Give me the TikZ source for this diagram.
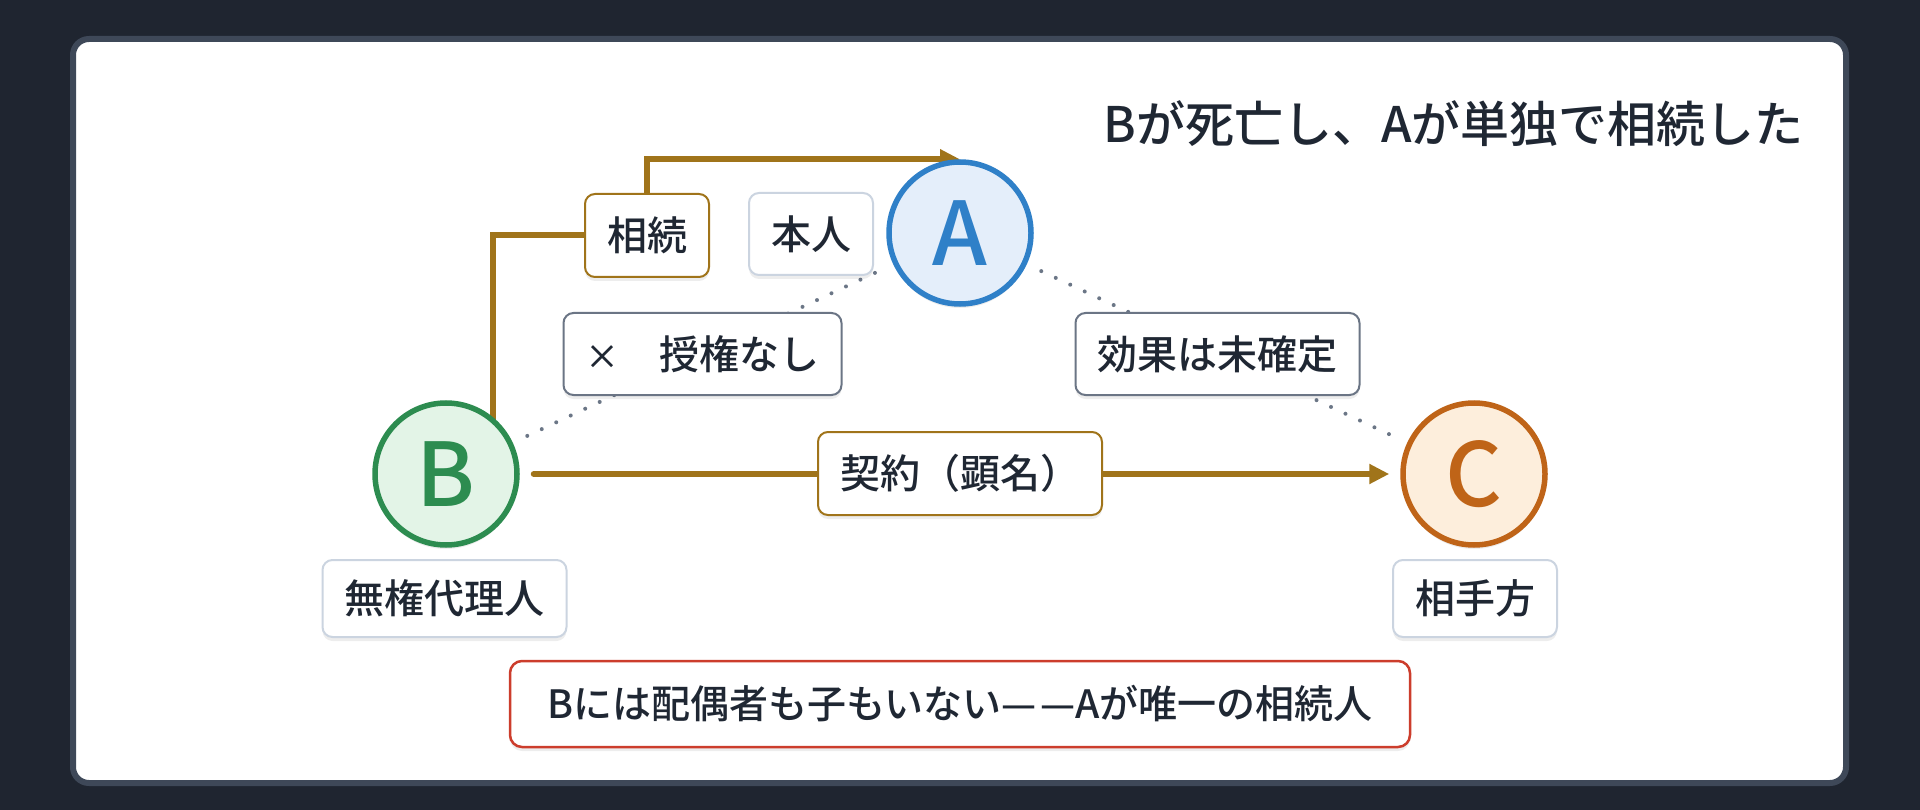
\documentclass[tikz,border=0pt]{standalone}
\usepackage{fontspec}
\setmainfont{Noto Sans CJK JP Medium}
\newfontfamily\letterfont{Noto Sans CJK JP Medium}
\usetikzlibrary{arrows.meta,shadows}
\definecolor{pagebg}{HTML}{1F2530}
\definecolor{cardedge}{HTML}{3E4858}
\definecolor{ink}{HTML}{1F2733}
\definecolor{gold}{HTML}{A0741A}
\definecolor{ablue}{HTML}{2F80C8}
\definecolor{ablueF}{HTML}{E4EEFA}
\definecolor{bgreen}{HTML}{2D8C50}
\definecolor{bgreenF}{HTML}{E3F4E7}
\definecolor{corange}{HTML}{BF6418}
\definecolor{corangeF}{HTML}{FDEEDC}
\definecolor{softedge}{HTML}{CBD4E0}
\definecolor{midedge}{HTML}{6B7585}
\definecolor{redge}{HTML}{CC3D2C}
\definecolor{dotgray}{HTML}{6B7686}
\pgfdeclarelayer{bglayer}
\pgfdeclarelayer{linelayer}
\pgfsetlayers{bglayer,linelayer,main}
\begin{document}
\begin{tikzpicture}[x=1pt,y=-1pt,
  softshadow/.style={drop shadow={shadow xshift=0pt,shadow yshift=-4pt,opacity=0.07,fill=black}},
  party/.style={circle, line width=5.5pt, minimum size=142pt, inner sep=0pt,
    font=\letterfont\fontsize{88}{88}\selectfont, softshadow},
  tag/.style={rectangle, rounded corners=10pt, fill=white, line width=2pt,
    inner xsep=22pt, inner ysep=0pt, minimum height=#1,
    font=\fontsize{40}{40}\selectfont, text=ink, softshadow},
  tag/.default=82pt,
  goldline/.style={gold, line width=6pt},
  dotline/.style={dotgray, line width=4pt, line cap=round, dash pattern=on 0pt off 16pt,
    shorten <=16pt, shorten >=16pt},
  goldtip/.style={-{Triangle[length=20pt,width=19pt]}}
]
\begin{pgfonlayer}{bglayer}
  \fill[pagebg] (0,0) rectangle (1920,810);
  \draw[cardedge, line width=6pt, fill=white, rounded corners=16pt] (73,39) rectangle (1846,783);
\end{pgfonlayer}
\useasboundingbox (0,0) rectangle (1920,810);

% title
\node[anchor=base east, inner sep=0pt, font=\fontsize{49}{49}\selectfont, text=ink] (title)
  at (1804,143) {Bが死亡し、Aが単独で相続した};

% parties
\node[party, draw=ablue, fill=ablueF, text=ablue] (A) at (960,233) {A};
\node[party, draw=bgreen, fill=bgreenF, text=bgreen] (B) at (446,474) {B};
\node[party, draw=corange, fill=corangeF, text=corange] (C) at (1474,474) {C};

% labels
\node[tag, draw=softedge] (honnin) at (811,234) {本人};
\node[tag=83pt, draw=gold] (inh) at (647,235.5) {相続};
\node[tag, draw=midedge] (noauth) at (702.5,354) {{\fontsize{34}{34}\selectfont ×}　授権なし};
\node[tag, draw=midedge] (effect) at (1217.5,354) {効果は未確定};
\node[tag=83pt, draw=gold] (contract) at (960,473.5) {契約（顕名）};
\node[tag=77pt, draw=softedge] (agent) at (444.5,598.5) {無権代理人};
\node[tag=77pt, draw=softedge] (other) at (1475,598.5) {相手方};
\node[rectangle, rounded corners=12pt, fill=white, draw=redge, line width=2.5pt,
  minimum width=900pt, minimum height=86pt, inner sep=0pt,
  font=\fontsize{39}{39}\selectfont, text=ink, softshadow] (note) at (960,704)
  {Bには配偶者も子もいない—\kern4pt—Aが唯一の相続人};

% connectors
\coordinate (bvert) at (493,474);
\begin{pgfonlayer}{linelayer}
  \draw[dotline] (B) -- (A);
  \draw[dotline] (A) -- (C);
  \draw[goldline] (bvert) |- (inh.west);
  \draw[goldline, goldtip] (inh.north) |- (A.north);
  \draw[goldline, goldtip, line cap=round, shorten <=14pt, shorten >=11pt] (B) -- (C);
\end{pgfonlayer}
\end{tikzpicture}
\end{document}
